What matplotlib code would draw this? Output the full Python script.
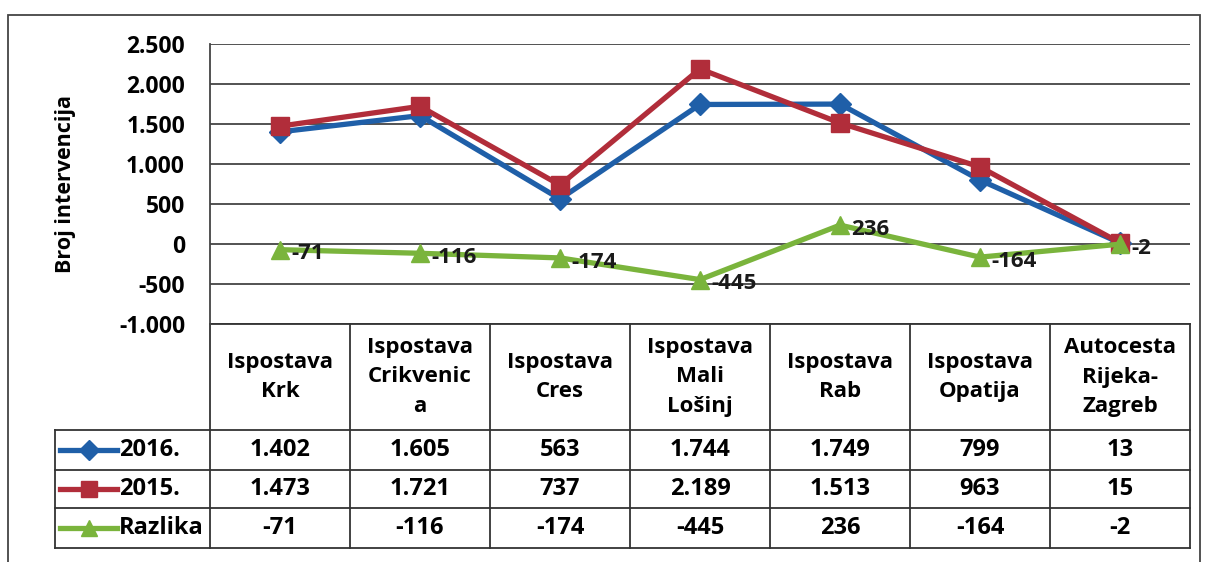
import matplotlib.pyplot as plt
from matplotlib.lines import Line2D
from matplotlib.patches import Rectangle

plt.rcParams['font.family'] = ['Open Sans', 'DejaVu Sans']
plt.rcParams['font.weight'] = 'bold'

# -------------------------
# data
# -------------------------
categories = ["Ispostava\nKrk", "Ispostava\nCrikvenic\na", "Ispostava\nCres",
              "Ispostava\nMali\nLošinj", "Ispostava\nRab", "Ispostava\nOpatija",
              "Autocesta\nRijeka-\nZagreb"]
v2016 = [1402, 1605, 563, 1744, 1749, 799, 13]
v2015 = [1473, 1721, 737, 2189, 1513, 963, 15]
razlika = [-71, -116, -174, -445, 236, -164, -2]
yticks = [-1000, -500, 0, 500, 1000, 1500, 2000, 2500]
ytick_labels = ["-1.000", "-500", "0", "500", "1.000", "1.500", "2.000", "2.500"]

def fmt(v):
    return f"{v:,}".replace(",", ".")

series = [
    ("2016.", v2016, "#1f5fa8", "D", 11),
    ("2015.", v2015, "#b12d3a", "s", 13),
    ("Razlika", razlika, "#7ab43c", "^", 13),
]

W, H = 1209, 562
fig = plt.figure(figsize=(W / 100, H / 100), dpi=100)
fig.patch.set_facecolor("white")

# plot area in pixels: x 210..1190, y 44..324
ax = fig.add_axes([210 / W, 1 - 324 / H, 980 / W, 280 / H])
x = list(range(len(categories)))
for name, vals, col, mk, ms in series:
    ax.plot(x, vals, color=col, lw=3.8, marker=mk, ms=ms, zorder=3)

for xi, v in zip(x, razlika):
    ax.annotate(str(v), (xi, v), xytext=(8, -3), textcoords="offset points",
                ha="left", va="center", fontsize=16, fontweight="bold", color="#1a1a1a")

ax.set_xlim(-0.5, len(categories) - 0.5)
ax.set_ylim(-1000, 2500)
ax.set_yticks(yticks)
ax.set_yticklabels(ytick_labels, fontsize=16.5, fontweight="bold")
ax.set_xticks([])
ax.grid(axis="y", color="#444444", lw=1.3)
ax.set_axisbelow(True)
for s in ["top", "right", "bottom"]:
    ax.spines[s].set_visible(False)
ax.spines["left"].set_color("#444444")
ax.spines["left"].set_linewidth(1.3)
ax.tick_params(axis="y", length=0, pad=18)
ax.set_ylabel("Broj intervencija", fontsize=15.5, fontweight="bold", labelpad=31)

# -------------------------
# data table under the plot
# -------------------------
lc = "#333333"
ph = 280.0
def yf(py):  # pixel row -> axes fraction
    return (324 - py) / ph

hdr_bot, r1, r2, r3 = yf(430), yf(470), yf(508), yf(548)
left_col = -0.5 - 155 / 140.0
n = len(categories)
trans = ax.get_xaxis_transform()

def hline(x0, x1, y):
    ax.add_line(Line2D([x0, x1], [y, y], color=lc, lw=1.3,
                       transform=trans, clip_on=False))

def vline(xv, y0, y1):
    ax.add_line(Line2D([xv, xv], [y0, y1], color=lc, lw=1.3,
                       transform=trans, clip_on=False))

hline(-0.5, n - 0.5, 0)
hline(left_col, n - 0.5, hdr_bot)
hline(left_col, n - 0.5, r1)
hline(left_col, n - 0.5, r2)
hline(left_col, n - 0.5, r3)
for i in range(n + 1):
    vline(i - 0.5, r3, 0)
vline(left_col, r3, hdr_bot)

for i, c in enumerate(categories):
    ax.text(i, (0 + hdr_bot) / 2, c, ha="center", va="center", fontsize=16,
            fontweight="bold", linespacing=1.55, transform=trans, clip_on=False)

rows = [(hdr_bot + r1) / 2, (r1 + r2) / 2, (r2 + r3) / 2]
for (name, vals, col, mk, ms), ry in zip(series, rows):
    for i, v in enumerate(vals):
        ax.text(i, ry, fmt(v), ha="center", va="center", fontsize=17,
                fontweight="bold", transform=trans, clip_on=False)
    # legend key
    x0 = left_col + 5 / 140.0
    x1 = left_col + 62 / 140.0
    ax.add_line(Line2D([x0, x1], [ry, ry], color=col, lw=3.8, transform=trans,
                       clip_on=False))
    ax.add_line(Line2D([(x0 + x1) / 2], [ry], color=col, marker=mk, ms=ms - 1,
                       transform=trans, clip_on=False))
    ax.text(left_col + 64 / 140.0, ry, name, ha="left", va="center", fontsize=17,
            fontweight="bold", transform=trans, clip_on=False)

# outer chart frame
fig.add_artist(Rectangle((8 / W, -0.05), 1192 / W, 1.05 - 15 / H, fill=False,
                         edgecolor="#444444", lw=1.3, transform=fig.transFigure))

fig.savefig("out.png", dpi=100)
